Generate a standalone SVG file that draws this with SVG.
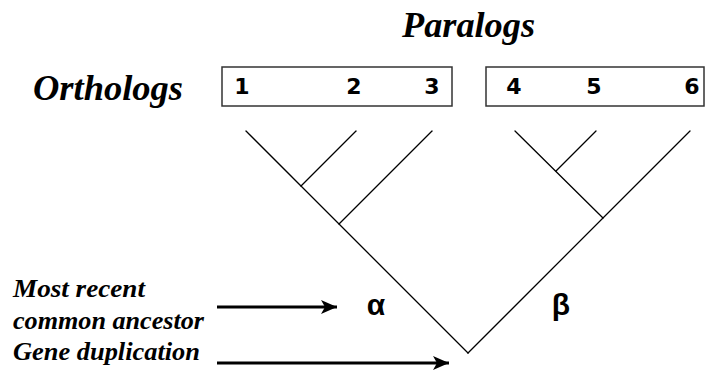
<svg xmlns="http://www.w3.org/2000/svg" width="706" height="377" viewBox="0 0 706 377">
<style>
.title{font-family:"Times New Roman","Liberation Serif",Times,serif;font-weight:bold;font-style:italic;font-size:36px;fill:#000}
.lab{font-family:"Times New Roman","Liberation Serif",Times,serif;font-weight:bold;font-style:italic;font-size:25px;fill:#000}
.num{font-family:"DejaVu Sans","Open Sans",sans-serif;font-weight:bold;font-size:22px;fill:#000;text-anchor:middle}
.greek{font-family:"Liberation Sans","DejaVu Sans",sans-serif;font-weight:bold;font-size:30px;fill:#000;text-anchor:middle}
.box{fill:none;stroke:#333;stroke-width:1.5}
.branch{stroke:#000;stroke-width:1.3;fill:none;stroke-linecap:round}
.arrow{stroke:#000;stroke-width:3;fill:none}
</style>
<defs>
<marker id="ah" markerUnits="userSpaceOnUse" markerWidth="18" markerHeight="16" refX="16" refY="8" orient="auto">
<path d="M0,1 L16,8 L0,15 L4,8 Z" fill="#000"/>
</marker>
</defs>
<rect width="706" height="377" fill="#fff"/>
<g id="paralogs-label"><text class="title" x="402" y="37" textLength="133" lengthAdjust="spacingAndGlyphs">Paralogs</text></g>
<g id="orthologs-label"><text class="title" x="33" y="100" textLength="150" lengthAdjust="spacingAndGlyphs">Orthologs</text></g>
<g id="group-alpha-genes">
<rect class="box" x="222" y="67" width="230" height="39"/>
<text class="num" x="242" y="94">1</text>
<text class="num" x="354" y="94">2</text>
<text class="num" x="432" y="94">3</text>
</g>
<g id="group-beta-genes">
<rect class="box" x="486" y="67" width="218" height="39"/>
<text class="num" x="514" y="94">4</text>
<text class="num" x="594" y="94">5</text>
<text class="num" x="692" y="94">6</text>
</g>
<g id="tree">
<line class="branch" x1="246" y1="131" x2="468" y2="353"/>
<line class="branch" x1="468" y1="353" x2="690" y2="131"/>
<line class="branch" x1="301" y1="186" x2="356" y2="131"/>
<line class="branch" x1="339" y1="224" x2="432" y2="131"/>
<line class="branch" x1="515" y1="131" x2="603" y2="218"/>
<line class="branch" x1="556" y1="171" x2="596" y2="131"/>
</g>
<g id="alpha"><text class="greek" x="376" y="315">α</text></g>
<g id="beta"><text class="greek" x="561" y="315">β</text></g>
<g id="mrca-label"><text class="lab" x="13" y="297" textLength="132" lengthAdjust="spacingAndGlyphs">Most recent</text><text class="lab" x="13" y="329" textLength="191" lengthAdjust="spacingAndGlyphs">common ancestor</text></g>
<g id="dup-label"><text class="lab" x="13" y="360" textLength="187" lengthAdjust="spacingAndGlyphs">Gene duplication</text></g>
<g id="connectors">
<line class="arrow" x1="217" y1="307" x2="337" y2="307" marker-end="url(#ah)"/>
<line class="arrow" x1="217" y1="363" x2="449" y2="363" marker-end="url(#ah)"/>
</g>
</svg>
